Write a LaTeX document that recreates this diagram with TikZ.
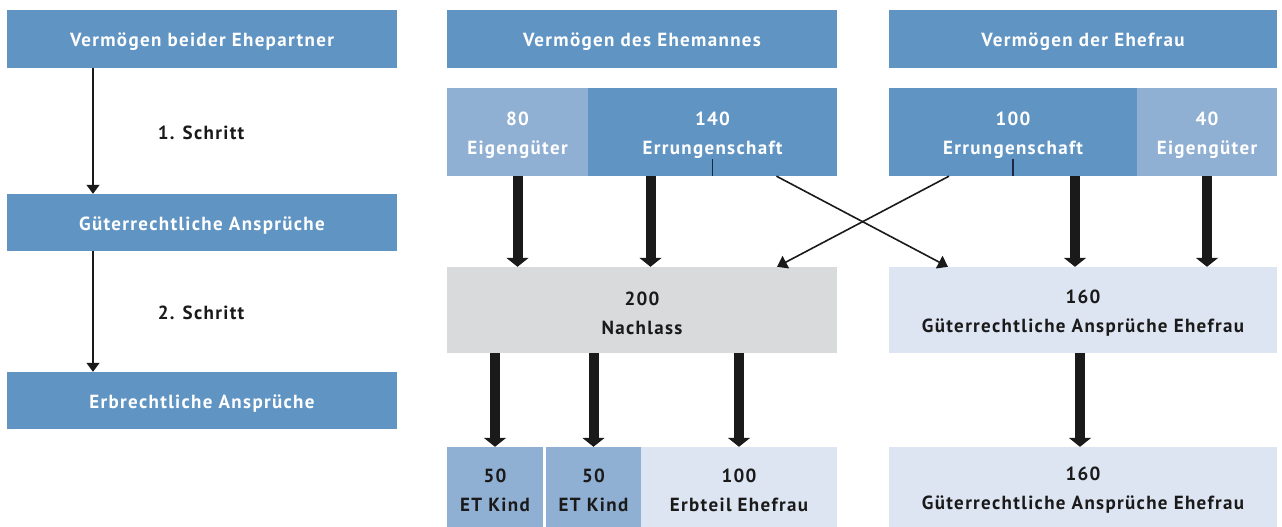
\documentclass[tikz,border=0pt]{standalone}
\usepackage{fontspec}
\setmainfont{PT Sans}[LetterSpace=7]
\usetikzlibrary{arrows.meta,calc}
\definecolor{dblue}{HTML}{6094C3}
\definecolor{lblue}{HTML}{8FAFD3}
\definecolor{pgray}{HTML}{D9DADC}
\definecolor{pblue}{HTML}{DEE5F2}
\definecolor{txt}{HTML}{1A1A1A}
\definecolor{tick}{HTML}{1B2A44}
\tikzset{
  box/.style={draw=none, inner sep=0pt},
  wt/.style={text=white, yshift=-3pt, inner sep=0pt, align=center, font=\bfseries\fontsize{19}{29}\selectfont},
  bt/.style={text=txt, yshift=-3pt, inner sep=0pt, align=center, font=\bfseries\fontsize{19}{29}\selectfont},
  dbox/.style={box, fill=dblue, label={[wt]center:#1}},
  lbox/.style={box, fill=lblue, label={[wt]center:#1}},
  kbox/.style={box, fill=lblue, label={[bt]center:#1}},
  gbox/.style={box, fill=pgray, label={[bt]center:#1}},
  pbox/.style={box, fill=pblue, label={[bt]center:#1}},
  thinarr/.style={line width=1.5pt, draw=txt, -{Triangle[width=13pt,length=9pt]}},
  crossarr/.style={line width=1.6pt, draw=txt, -{Triangle[width=14pt,length=10pt]}},
  fatarr/.style={line width=10pt, draw=txt, -{Triangle[width=22pt,length=9pt]}},
  lab/.style={text=txt, font=\bfseries\fontsize{19}{19}\selectfont}
}
\begin{document}
\begin{tikzpicture}[x=1pt,y=-1pt]
\useasboundingbox (0,0) rectangle (1282,527);
% left column
\node[dbox={Vermögen beider Ehepartner}, minimum width=390, minimum height=58] (l1) at (202,39) {};
\node[dbox={Güterrechtliche Ansprüche}, minimum width=390, minimum height=57] (l2) at (202,222.5) {};
\node[dbox={Erbrechtliche Ansprüche}, minimum width=390, minimum height=57] (l3) at (202,400.5) {};
\draw[thinarr] ([xshift=-109]l1.south) -- ([xshift=-109]l2.north);
\draw[thinarr] ([xshift=-109]l2.south) -- ([xshift=-109]l3.north);
\node[lab] (s1) at (201,133) {1. Schritt};
\node[lab] (s2) at (201,313) {2. Schritt};
% headers
\node[dbox={Vermögen des Ehemannes}, minimum width=390, minimum height=58] (hm) at (642,39) {};
\node[dbox={Vermögen der Ehefrau}, minimum width=388, minimum height=58] (hf) at (1083,39) {};
% row 2
\node[lbox={80\\Eigengüter}, minimum width=141, minimum height=88] (eg1) at (517.5,132) {};
\node[dbox={140\\Errungenschaft}, minimum width=249, minimum height=88] (er1) at (712.5,132) {};
\node[dbox={100\\Errungenschaft}, minimum width=248, minimum height=88] (er2) at (1013,132) {};
\node[lbox={40\\Eigengüter}, minimum width=140, minimum height=88] (eg2) at (1207,132) {};
\draw[line width=1.5pt, tick] (er1.south) -- ++(0,-17);
\draw[line width=1.5pt, tick] (er2.south) -- ++(0,-17);
% row 3
\node[gbox={200\\Nachlass}, minimum width=390, minimum height=86] (na) at (642,310) {};
\node[pbox={160\\Güterrechtliche Ansprüche Ehefrau}, minimum width=388, minimum height=86] (gf) at (1083,310) {};
% row 4
\node[kbox={50\\ET Kind}, minimum width=96, minimum height=80] (k1) at (495,487) {};
\node[kbox={50\\ET Kind}, minimum width=95, minimum height=80] (k2) at (593.5,487) {};
\node[pbox={100\\Erbteil Ehefrau}, minimum width=196, minimum height=80] (ef) at (739,487) {};
\node[pbox={160\\Güterrechtliche Ansprüche Ehefrau}, minimum width=388, minimum height=80] (gf2) at (1083,487) {};
% arrows row 2 -> row 3
\draw[fatarr] (eg1.south) -- (eg1.south |- na.north);
\draw[fatarr] ([xshift=-62]er1.south) -- ([xshift=-62]er1.south |- na.north);
\draw[fatarr] ([xshift=62]er2.south) -- ([xshift=62]er2.south |- gf.north);
\draw[fatarr] (eg2.south) -- (eg2.south |- gf.north);
\draw[crossarr] ([xshift=64]er1.south) -- ([xshift=-135]gf.north);
\draw[crossarr] ([xshift=-64]er2.south) -- ([xshift=135]na.north);
% arrows row 3 -> row 4
\draw[fatarr] (k1.north |- na.south) -- (k1.north);
\draw[fatarr] (k2.north |- na.south) -- (k2.north);
\draw[fatarr] (ef.north |- na.south) -- (ef.north);
\draw[fatarr] ([xshift=-3]gf.south) -- ([xshift=-3]gf2.north);
\end{tikzpicture}
\end{document}
